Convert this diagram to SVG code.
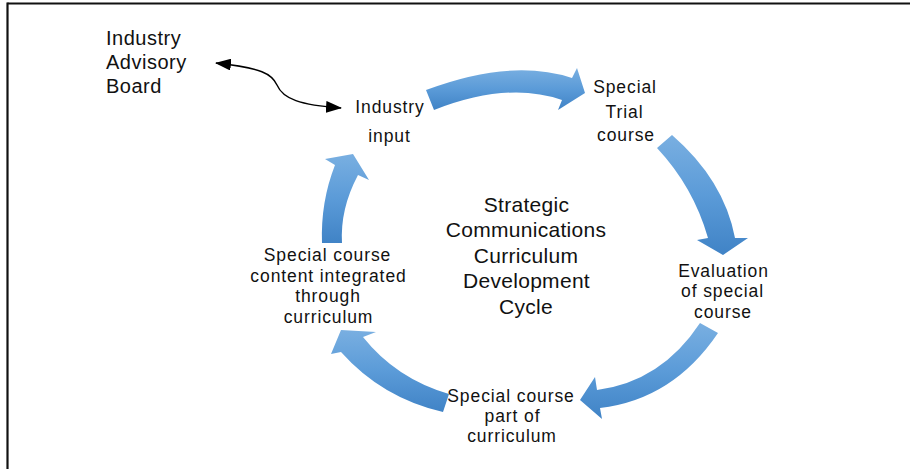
<svg xmlns="http://www.w3.org/2000/svg" width="910" height="469" viewBox="0 0 910 469">
<style>
.lbl{font-family:"Liberation Sans",Arial,sans-serif;font-size:17.5px;letter-spacing:0.9px;fill:#111;text-anchor:middle}
.title{font-family:"Liberation Sans",Arial,sans-serif;font-size:21px;letter-spacing:0.3px;fill:#111;text-anchor:middle}
.board{font-family:"Liberation Sans",Arial,sans-serif;font-size:20px;letter-spacing:0.5px;fill:#111}
.arrow{fill:url(#blue)}
.conn{fill:none;stroke:#000;stroke-width:1.4}
</style>
<defs>
<linearGradient id="blue" x1="0" y1="0" x2="0" y2="1">
<stop offset="0" stop-color="#79afe1"/>
<stop offset="0.5" stop-color="#5b9bd8"/>
<stop offset="1" stop-color="#4083c6"/>
</linearGradient>
<marker id="ah" viewBox="0 0 16 12" refX="15" refY="6" markerWidth="16" markerHeight="12" markerUnits="userSpaceOnUse" orient="auto-start-reverse">
<path d="M0,0 L16,6 L0,12 Z" fill="#000"/>
</marker>
</defs>
<rect width="910" height="469" fill="#fff"/>
<g id="frame">
<line x1="7.5" y1="3.5" x2="910" y2="3.5" stroke="#111" stroke-width="2.2"/>
<line x1="7.5" y1="2.5" x2="7.5" y2="469" stroke="#111" stroke-width="2.2"/>
</g>
<g id="cycle-arrows">
<path class="arrow" d="M426,90 Q511,58 572,78 L577,68 L585,93 L558,110 L562,100 Q508,81 434,110 Z"/>
<path class="arrow" d="M672,135 Q724,180 735,238 L748,238 L723,255 L697,240 L708,238 Q693.5,187 657,148 Z"/>
<path class="arrow" d="M718,333 Q673,399.5 600,408 L602,419 L580,400 L595,377 L597,390 Q661.5,381.5 700,323 Z"/>
<path class="arrow" d="M443,412 Q382,398 341,352 L331,354 L341,330 L376,332 L363,337 Q396,378.5 449,394 Z"/>
<path class="arrow" d="M322,243 Q320.5,202 335,165 L325,159 L353,154 L369,180 L358,175 Q340,209 342,243 Z"/>
</g>
<g id="connectors">
<path class="conn" d="M216,63 C262,68 272,74 277,85 C283,99 300,105 341,108" marker-start="url(#ah)" marker-end="url(#ah)"/>
</g>
<g id="industry-advisory-board">
<text class="board" x="106" y="45">Industry</text>
<text class="board" x="106" y="69">Advisory</text>
<text class="board" x="106" y="92.5">Board</text>
</g>
<g id="industry-input">
<text class="lbl" x="390" y="113">Industry</text>
<text class="lbl" x="389.5" y="141.5">input</text>
</g>
<g id="special-trial-course">
<text class="lbl" x="625" y="93">Special</text>
<text class="lbl" x="624.5" y="117.5">Trial</text>
<text class="lbl" x="626" y="140.5">course</text>
</g>
<g id="evaluation">
<text class="lbl" x="723.5" y="276.5">Evaluation</text>
<text class="lbl" x="722.5" y="297">of special</text>
<text class="lbl" x="723" y="318">course</text>
</g>
<g id="special-course-part">
<text class="lbl" x="511" y="401.5">Special course</text>
<text class="lbl" x="512.5" y="421.7">part of</text>
<text class="lbl" x="512" y="442">curriculum</text>
</g>
<g id="special-course-integrated">
<text class="lbl" x="327.5" y="260.5">Special course</text>
<text class="lbl" x="328.5" y="281.5">content integrated</text>
<text class="lbl" x="328" y="302.3">through</text>
<text class="lbl" x="328.5" y="323.2">curriculum</text>
</g>
<g id="title">
<text class="title" x="526.5" y="211.5">Strategic</text>
<text class="title" x="526" y="237">Communications</text>
<text class="title" x="526" y="262.5">Curriculum</text>
<text class="title" x="526.5" y="288">Development</text>
<text class="title" x="526" y="313.5">Cycle</text>
</g>
</svg>
